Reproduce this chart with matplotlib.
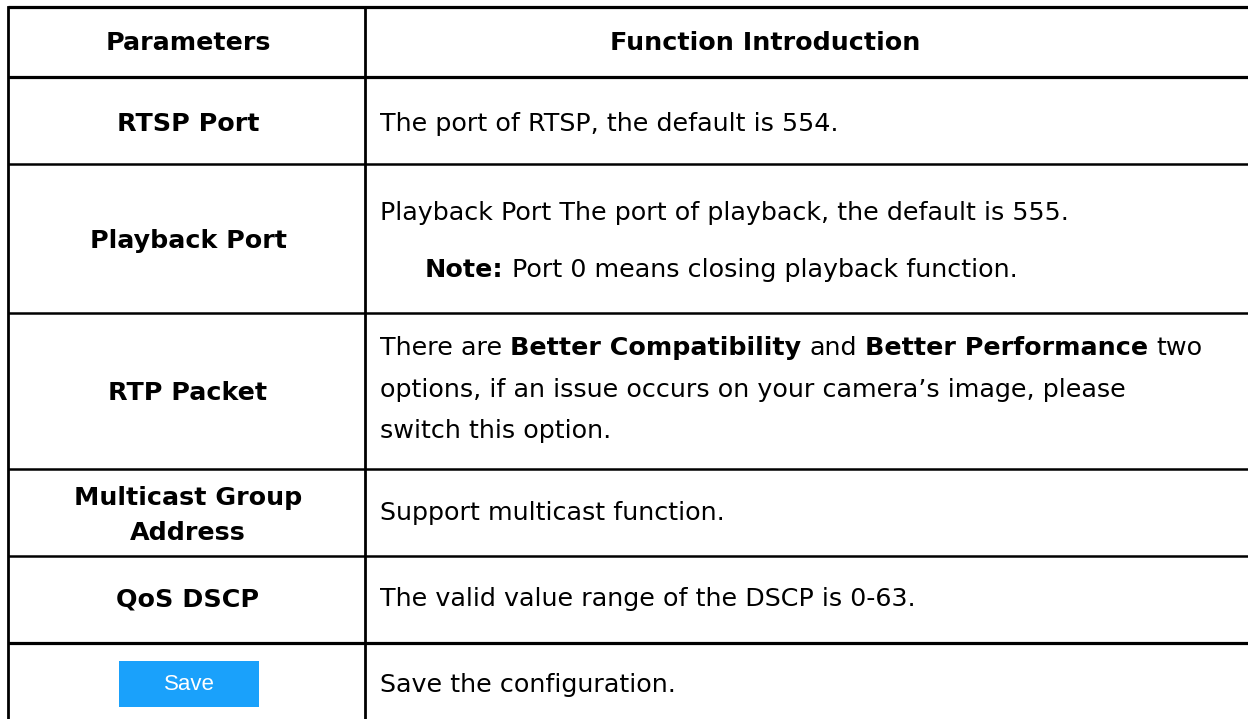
import matplotlib
matplotlib.use("Agg")
import matplotlib.pyplot as plt
from matplotlib.patches import Rectangle

plt.rcParams['font.family'] = ['DejaVu Sans']

# table content
headers = ["Parameters", "Function Introduction"]
params = ["RTSP Port", "Playback Port", "RTP Packet",
          "Multicast Group\nAddress", "QoS DSCP", "Save"]
# each description: list of lines, each line a list of (text, bold) runs
descs = [
    [[("The port of RTSP, the default is 554.", False)]],
    [[("Playback Port The port of playback, the default is 555.", False)],
     [("Note:", True), (" Port 0 means closing playback function.", False)]],
    [[("There are ", False), ("Better Compatibility", True), (" and ", False),
      ("Better Performance", True), (" two", False)],
     [("options, if an issue occurs on your camera\u2019s image, please", False)],
     [("switch this option.", False)]],
    [[("Support multicast function.", False)]],
    [[("The valid value range of the DSCP is 0-63.", False)]],
    [[("Save the configuration.", False)]],
]

# layout (pixels)
W, H = 1248, 719
row_y = [7, 77, 164, 313, 469, 556, 643]
x_left, x_mid = 8, 365
fs = 18.3
# baselines of the parameter names and description lines
param_base = [[131], [248], [400], [505, 540], [606], [692]]
desc_base = [[131], [220, 277], [355, 397, 438], [520], [606], [692]]
desc_indent = [[0], [0, 45], [0, 0, 0], [0], [0], [0]]

fig = plt.figure(figsize=(W / 100, H / 100), dpi=100)
ax = fig.add_axes([0, 0, 1, 1])
ax.set_xlim(0, W)
ax.set_ylim(H, 0)
ax.axis('off')

# grid lines
for i, y in enumerate(row_y):
    lw = 2.3 if i in (0, 1, 6) else 1.8
    ax.plot([x_left, W + 5], [y, y], color='black', lw=lw, solid_capstyle='butt')
ax.plot([x_left, x_left], [row_y[0], H + 5], color='black', lw=2.0)
ax.plot([x_mid, x_mid], [row_y[0], H + 5], color='black', lw=2.0)

col1_c = 188
col2_c = 765
ax.text(col1_c, 50, headers[0], ha='center', va='baseline', fontsize=fs, fontweight='bold')
ax.text(col2_c, 50, headers[1], ha='center', va='baseline', fontsize=fs, fontweight='bold')

renderer = fig.canvas.get_renderer()


def text_width(s, bold):
    t = ax.text(0, 0, s, fontsize=fs, fontweight='bold' if bold else 'normal')
    w = t.get_window_extent(renderer).width
    t.remove()
    return w


space_w = {b: text_width("x x", b) - text_width("xx", b) for b in (False, True)}

for r in range(len(params)):
    if params[r] == "Save":
        ax.add_patch(Rectangle((119, 661), 140, 46, color='#1aa1fb', lw=0))
        ax.text(189, 685, "Save", ha='center', va='center', fontsize=16,
                color='white', family='Liberation Sans')
    else:
        for k, name in enumerate(params[r].split("\n")):
            ax.text(col1_c, param_base[r][k], name, ha='center', va='baseline',
                    fontsize=fs, fontweight='bold')
    for k, runs in enumerate(descs[r]):
        x = 380 + desc_indent[r][k]
        for s, b in runs:
            core = s.strip(' ')
            x += (len(s) - len(s.lstrip(' '))) * space_w[b]
            ax.text(x, desc_base[r][k], core, ha='left', va='baseline', fontsize=fs,
                    fontweight='bold' if b else 'normal')
            x += text_width(core, b)
            x += (len(s) - len(s.rstrip(' '))) * space_w[b]

fig.savefig('out.png', dpi=100)
